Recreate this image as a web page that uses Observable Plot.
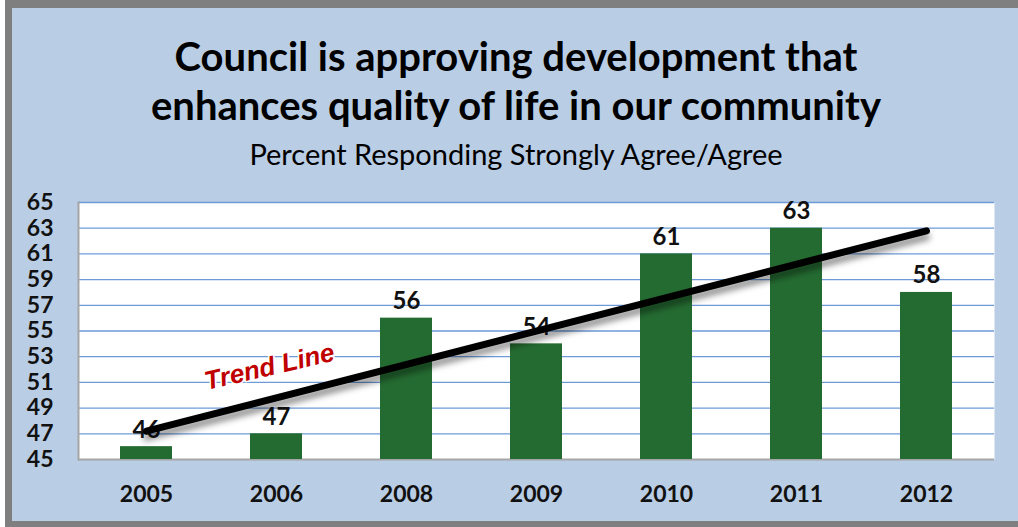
<!DOCTYPE html>
<html><head><meta charset="utf-8">
<script src="https://cdn.jsdelivr.net/npm/d3@7"></script>
<script src="https://cdn.jsdelivr.net/npm/@observablehq/plot@0.6"></script>
<style>
html,body{margin:0;padding:0;width:1018px;height:527px;overflow:hidden;background:#ffffff;}
#gray{position:absolute;left:5px;top:0;width:1100px;height:600px;background:#7f7f7f;}
#blue{position:absolute;left:12px;top:8px;width:1006px;height:513px;background:#b9cde5;}
.t{position:absolute;left:0;width:1032px;text-align:center;color:#000;font-family:Lato,"Open Sans",sans-serif;white-space:nowrap;}
#t1{top:36px;font-size:40px;line-height:40px;font-weight:bold;}
#t2{top:85px;font-size:40px;line-height:40px;font-weight:bold;}
#sub{top:139px;font-size:29px;line-height:29px;}
#chart{position:absolute;left:0;top:180px;}
</style></head>
<body>
<div id="gray"></div><div id="blue"></div>
<div class="t" id="t1">Council is approving development that</div>
<div class="t" id="t2">enhances quality of life in our community</div>
<div class="t" id="sub">Percent Responding Strongly Agree/Agree</div>
<div id="chart"></div>
<script>
const years = ["2005", "2006", "2008", "2009", "2010", "2011", "2012"];
const percents = [46, 47, 56, 54, 61, 63, 58];
const yTicks = [45, 47, 49, 51, 53, 55, 57, 59, 61, 63, 65];
const yDomain = [45, 65];
const trendYears = ["2005", "2012"];
const trendValues = [47.2, 62.8];
const noteYears = ["2006"];
const noteValues = [52.2];
const noteTexts = ["Trend Line"];

const trend = trendYears.map((x, i) => ({x, y: trendValues[i]}));

const chart = Plot.plot({
  width: 1018,
  height: 340,
  marginLeft: 78,
  marginRight: 24,
  marginTop: 22,
  marginBottom: 61,
  style: {background: "transparent", fontFamily: "Lato, 'Open Sans', sans-serif", fontWeight: "bold", fontSize: "22px", color: "#111"},
  x: {domain: years, paddingInner: 0.6, paddingOuter: 0.3, label: null},
  y: {domain: yDomain, label: null},
  marks: [
    Plot.frame({fill: "white", stroke: null}),
    Plot.gridY(yTicks.slice(1), {stroke: "#6e9bd8", strokeOpacity: 1, strokeWidth: 1.3}),
    Plot.frame({anchor: "left", stroke: "#a6a6a6", strokeWidth: 2}),
    Plot.ruleY([yDomain[0]], {stroke: "#a6a6a6", strokeWidth: 2}),
    Plot.barY(years, {x: years, y1: yDomain[0], y2: percents, fill: "#246b31"}),
    Plot.text(years, {x: years, y: percents, text: percents.map(String), lineAnchor: "bottom", dy: -9, fontSize: 24, fill: "#111"}),
    Plot.line(trend, {x: "x", y: "y", stroke: "#000", strokeOpacity: 0.45, strokeWidth: 7, dy: 6, strokeLinecap: "round"}),
    Plot.line(trend, {x: "x", y: "y", stroke: "#000", strokeWidth: 7, strokeLinecap: "round"}),
    Plot.text(noteYears, {x: noteYears, y: noteValues, text: noteTexts, rotate: -13, dx: -7, fill: "#c00000", stroke: "white", strokeWidth: 3, paintOrder: "stroke", fontFamily: "'Liberation Sans', Arial, sans-serif", fontStyle: "italic", fontWeight: "bold", fontSize: 26}),
    Plot.axisY({ticks: yTicks, tickSize: 0, tickPadding: 25, fontSize: 23}),
    Plot.axisX({tickSize: 0, tickPadding: 26, fontSize: 23})
  ]
});
document.getElementById("chart").appendChild(chart);

// soft shadow for the trend line
const svg = d3.select(chart);
const defs = svg.insert("defs", ":first-child");
const f = defs.append("filter").attr("id", "blurShadow").attr("x", "-10%").attr("y", "-50%").attr("width", "120%").attr("height", "200%");
f.append("feGaussianBlur").attr("stdDeviation", 3);
const lines = svg.selectAll('g[aria-label="line"]');
if (lines.size() > 1) d3.select(lines.nodes()[0]).attr("filter", "url(#blurShadow)");
</script>
</body></html>
